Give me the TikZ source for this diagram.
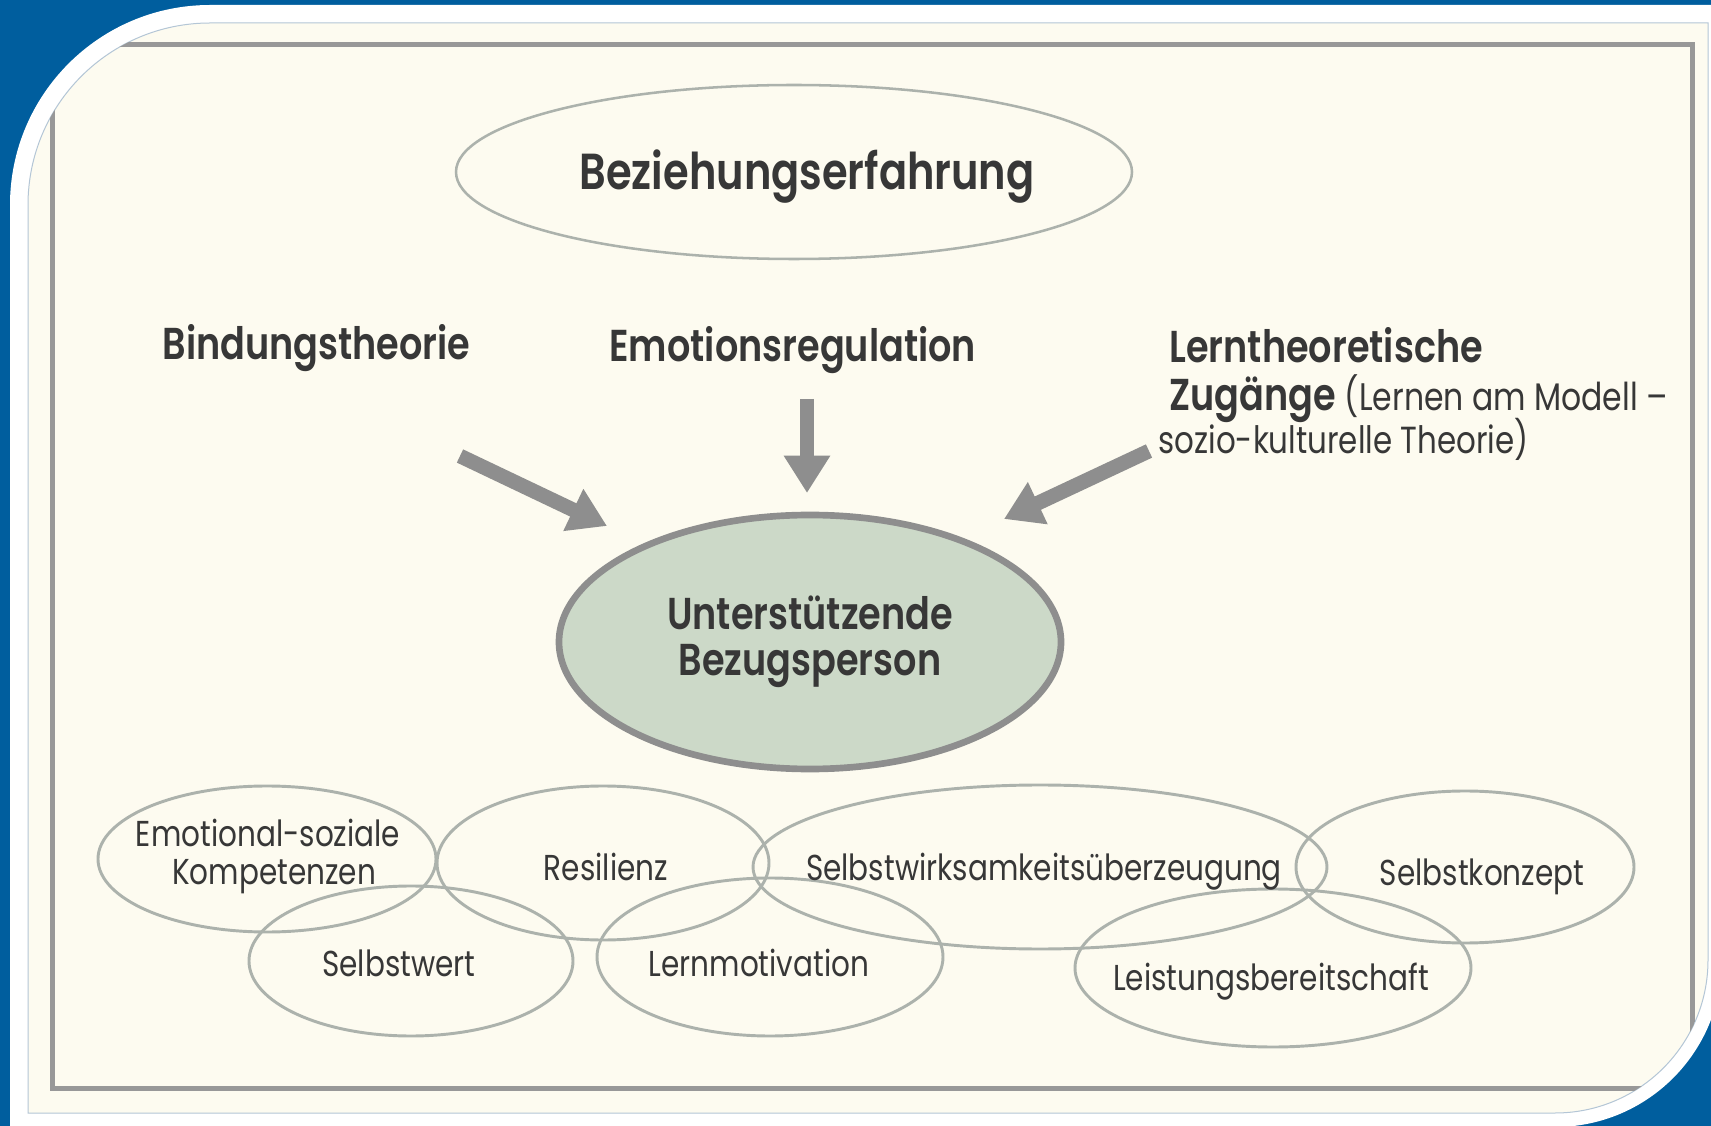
\documentclass[tikz,border=0pt]{standalone}
\usepackage{fontspec}
\setmainfont{Poppins}[FakeStretch=0.82, BoldFont={Poppins SemiBold}]
\usetikzlibrary{shapes.geometric}
\usetikzlibrary{arrows.meta}
\definecolor{bgblue}{RGB}{0,94,158}
\definecolor{paper}{RGB}{253,251,240}
\definecolor{edgeblue}{RGB}{180,198,214}
\definecolor{framegray}{RGB}{152,152,152}
\definecolor{bubgray}{RGB}{172,178,172}
\definecolor{inkgray}{RGB}{55,55,55}
\definecolor{arrowgray}{RGB}{142,142,142}
\definecolor{corefill}{RGB}{204,217,200}
\tikzset{every picture/.style={line width=0.75pt}}
\tikzset{
  bubble/.style={ellipse, draw=bubgray, line width=2.2pt, inner sep=0pt},
  bubtext/.style={anchor=base, inner sep=0.75pt, text=inkgray, font=\fontsize{27}{30}\selectfont},
  headtext/.style={anchor=base west, inner sep=0.75pt, text=inkgray, font=\bfseries\fontsize{33.5}{36}\selectfont},
  bigarrow/.style={draw=arrowgray, line width=11pt, -{Triangle[width=33pt,length=28pt]}},
}

\begin{document}
\begin{tikzpicture}[x=0.75pt,y=0.75pt,yscale=-1,xscale=1]
\useasboundingbox (0,0) rectangle (1711,1126);

%Background
\fill[bgblue] (0,0) rectangle (1711,1126);
\fill[white] (10,205) arc[start angle=180,end angle=270,radius=200] -- (1722,5) -- (1722,960) arc[start angle=0,end angle=90,radius=167] -- (10,1127) -- cycle;
\filldraw[fill=paper, draw=edgeblue] (28,205) arc[start angle=180,end angle=270,radius=182] -- (1708,23) -- (1708,960) arc[start angle=0,end angle=90,radius=153] -- (28,1113) -- cycle;
%Frame
\begin{scope}
\clip (28,205) arc[start angle=180,end angle=270,radius=182] -- (1708,23) -- (1708,960) arc[start angle=0,end angle=90,radius=153] -- (28,1113) -- cycle;
\draw[framegray, line width=3.75pt] (52,45) rectangle (1692,1088);
\end{scope}

%Shape: Ellipse
\node[bubble, line width=1.9pt, minimum width=507pt, minimum height=130.5pt] (bezerf) at (794,172) {};
% Text Node
\node[anchor=base, inner sep=0.75pt, text=inkgray, font=\bfseries\fontsize{38}{40}\selectfont] (bezerftxt) at (807,190) {Beziehungserfahrung};

% Text Node
\node[headtext] (bindung) at (161,360) {Bindungstheorie};
% Text Node
\node[headtext] (emoreg) at (608,362) {Emotionsregulation};
% Text Node
\node[headtext] (lern) at (1168,363) {Lerntheoretische};
% Text Node
\node[headtext] (zugang) at (1168,411) {Zugänge {\mdseries\fontsize{28.8}{30}\selectfont(Lernen am Modell –}};
% Text Node
\node[headtext, font=\fontsize{28.3}{30}\selectfont] (sozio) at (1157,454) {sozio-kulturelle Theorie)};

%Shape: Ellipse
\node[ellipse, draw=arrowgray, fill=corefill, line width=5pt, minimum width=376.5pt, minimum height=190.5pt, align=center, text=inkgray, font=\bfseries\fontsize{33.5}{34.5}\selectfont] (core) at (810,642) {Unterstützende\\Bezugsperson};

%Arrows
\coordinate (bindtail) at (460,456);
\coordinate (bindtip) at (607,526);
\coordinate (emotail) at (807,399);
\coordinate (emotip) at (807,493);
\coordinate (lerntail) at (1149,451);
\coordinate (lerntip) at (1004,519);
\draw[bigarrow] (bindtail) -- (bindtip);
\draw[bigarrow] (emotail) -- (emotip);
\draw[bigarrow] (lerntail) -- (lerntip);

%Shape: Ellipse
\node[bubble, minimum width=253.5pt, minimum height=109.5pt] (emosoz) at (267,859) {};
\node[bubble, minimum width=249pt, minimum height=115.5pt] (resil) at (603,863) {};
\node[bubble, minimum width=430.5pt, minimum height=123pt] (swirk) at (1040,867) {};
\node[bubble, minimum width=253.5pt, minimum height=114pt] (skonz) at (1465,867) {};
\node[bubble, minimum width=243pt, minimum height=112.5pt] (swert) at (411,961) {};
\node[bubble, minimum width=259.5pt, minimum height=118.5pt] (lmot) at (770,957) {};
\node[bubble, minimum width=297pt, minimum height=118.5pt] (leist) at (1273,968) {};

% Text Node
\node[bubtext] (emosoza) at (268,846) {Emotional-soziale};
\node[bubtext] (emosozb) at (274,884) {Kompetenzen};
\node[bubtext] (resiltxt) at (606,880) {Resilienz};
\node[bubtext] (swirktxt) at (1044,880) {Selbstwirksamkeitsüberzeugung};
\node[bubtext] (skonztxt) at (1482,885) {Selbstkonzept};
\node[bubtext] (swerttxt) at (399,976) {Selbstwert};
\node[bubtext] (lmottxt) at (759,976) {Lernmotivation};
\node[bubtext] (leisttxt) at (1271,990) {Leistungsbereitschaft};

\end{tikzpicture}
\end{document}
